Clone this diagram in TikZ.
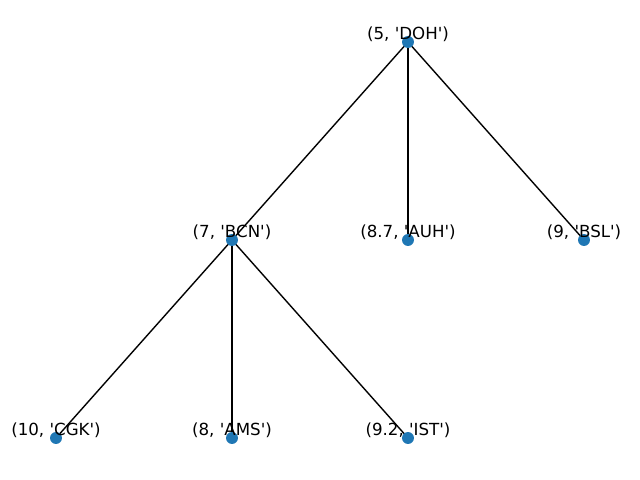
\documentclass[tikz,border=0pt]{standalone}
\usepackage{fontspec}
\setmainfont{DejaVu Sans}[Ligatures=TeXOff]
\usepackage{tikz}
\usetikzlibrary{positioning,backgrounds}
\definecolor{nxblue}{RGB}{31,119,180}

\begin{document}
\begin{tikzpicture}[x=0.72pt, y=-0.72pt,
    dot/.style={circle, fill=nxblue, inner sep=0pt, minimum size=8.6pt},
    lbl/.style={anchor=base, inner sep=0pt, font=\fontsize{12}{14}\selectfont},
    edge/.style={draw=black, line width=1pt},
]
\useasboundingbox (0,0) rectangle (640,480);

% tree nodes
\node[dot] (doh) at (408,42)  {};
\node[dot] (bcn) at (232,240) {};
\node[dot] (auh) at (408,240) {};
\node[dot] (bsl) at (584,240) {};
\node[dot] (cgk) at (56,438)  {};
\node[dot] (ams) at (232,438) {};
\node[dot] (ist) at (408,438) {};

% edges, under the dots
\begin{pgfonlayer}{background}
\draw[edge] (doh.center) -- (bcn.center);
\draw[edge] (doh.center) -- (auh.center);
\draw[edge] (doh.center) -- (bsl.center);
\draw[edge] (bcn.center) -- (cgk.center);
\draw[edge] (bcn.center) -- (ams.center);
\draw[edge] (bcn.center) -- (ist.center);
\end{pgfonlayer}

% labels
\node[lbl] (tdoh) at (408,39)  {(5, 'DOH')};
\node[lbl] (tbcn) at (232,237) {(7, 'BCN')};
\node[lbl] (tauh) at (408,237) {(8.7, 'AUH')};
\node[lbl] (tbsl) at (584,237) {(9, 'BSL')};
\node[lbl] (tcgk) at (56,435)  {(10, 'CGK')};
\node[lbl] (tams) at (232,435) {(8, 'AMS')};
\node[lbl] (tist) at (408,435) {(9.2, 'IST')};
\end{tikzpicture}
\end{document}
